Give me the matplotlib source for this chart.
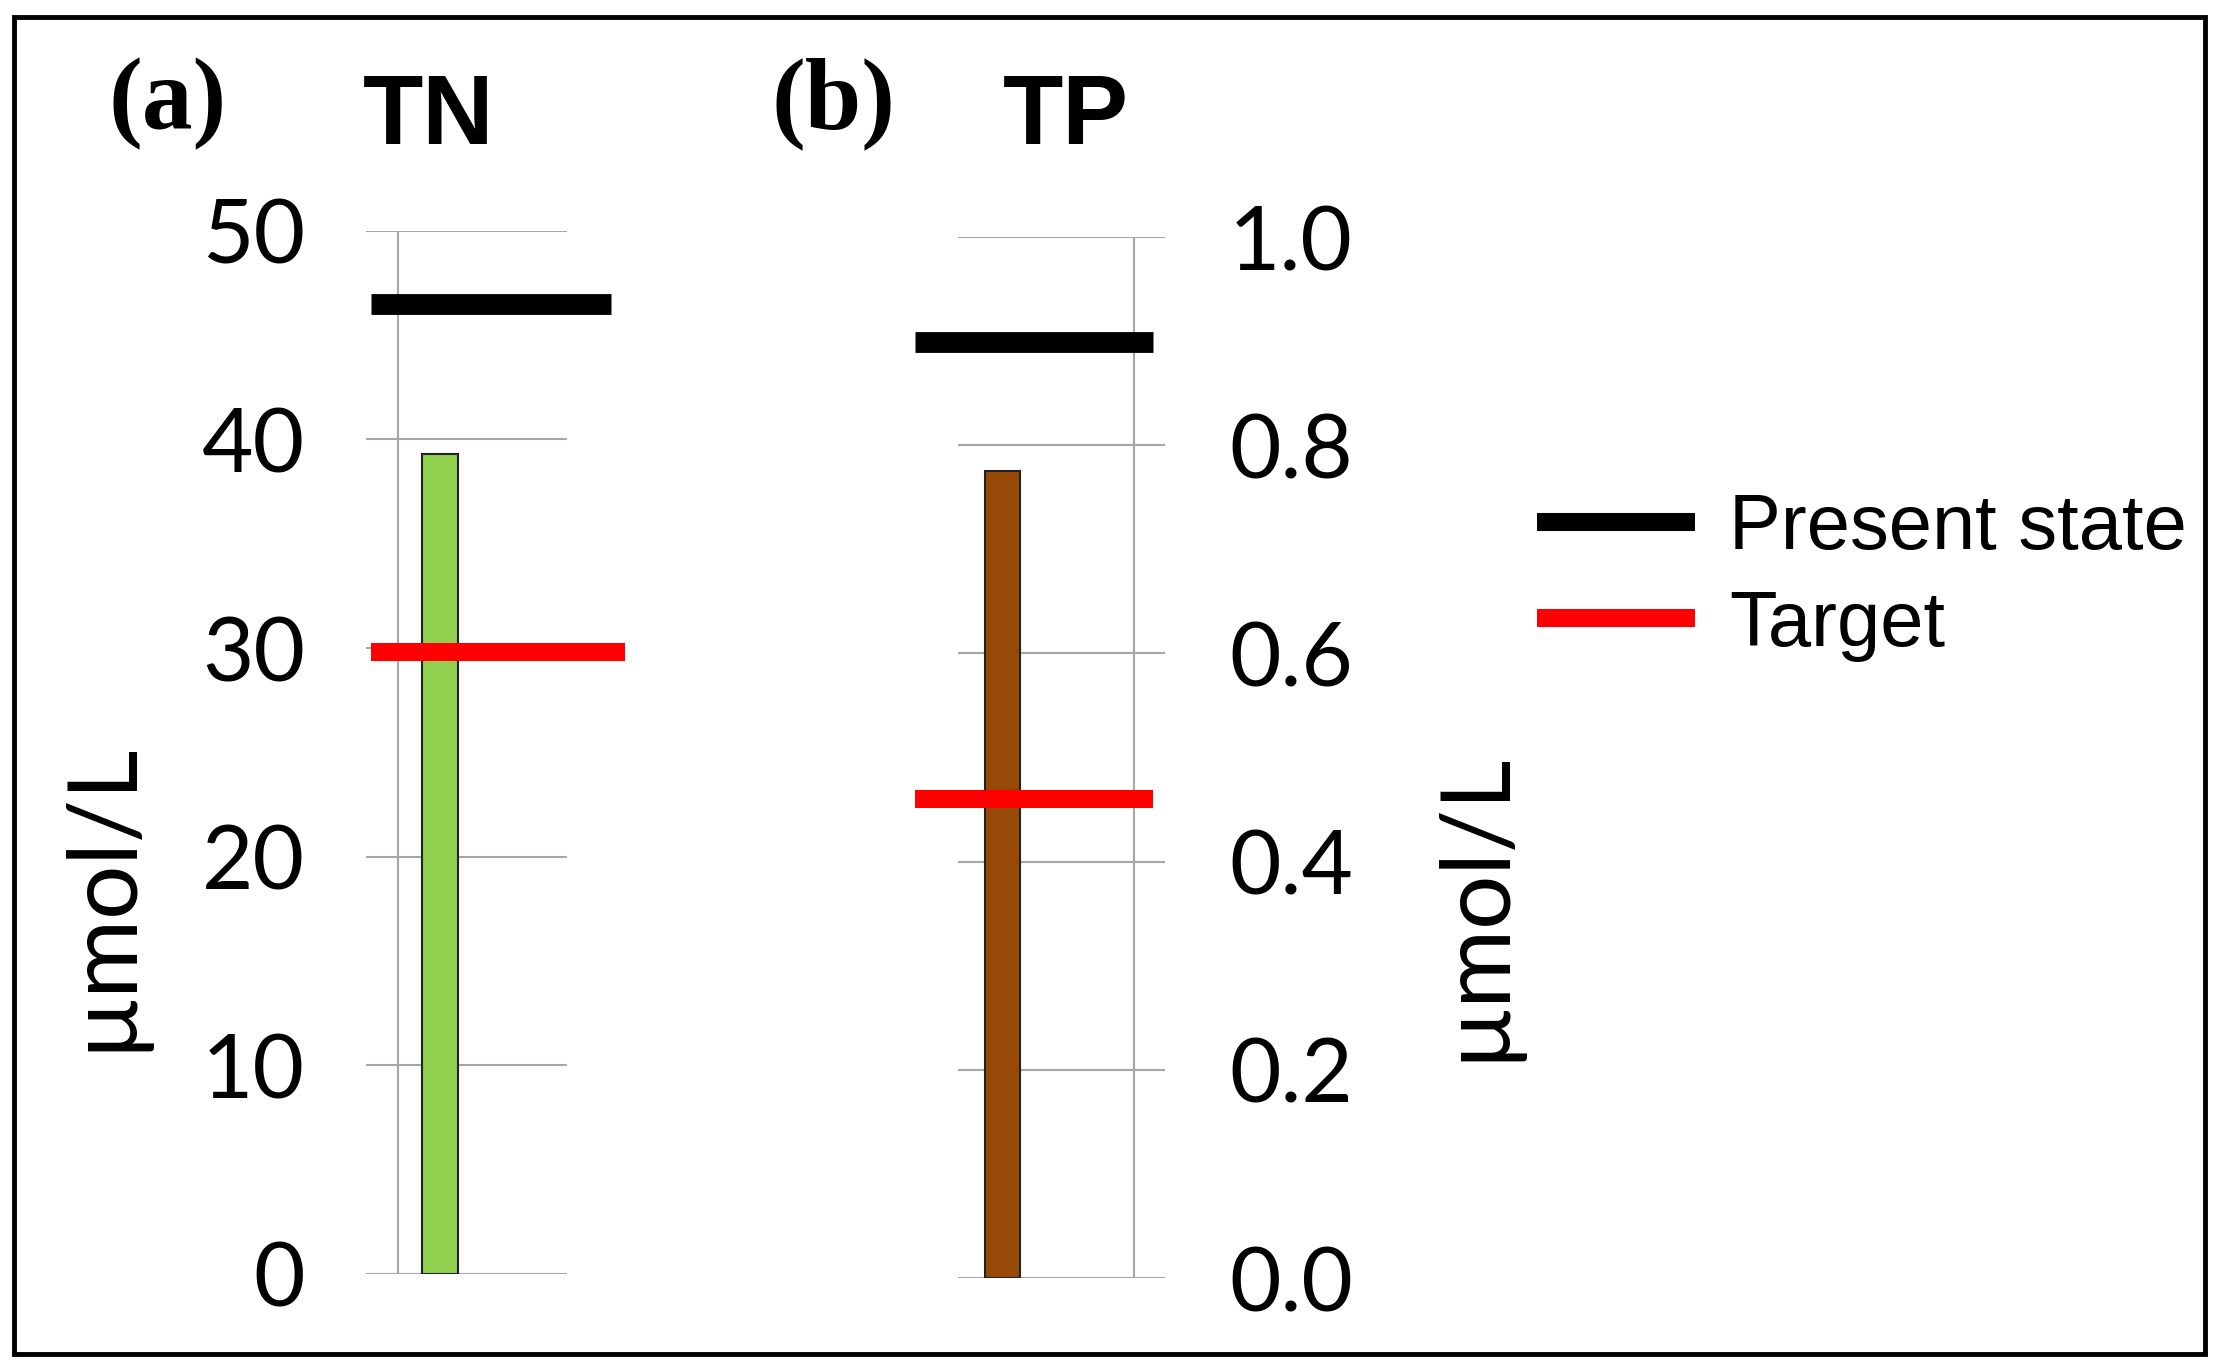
import matplotlib
matplotlib.use("Agg")
import matplotlib.pyplot as plt
from matplotlib.lines import Line2D
from matplotlib.patches import Rectangle

# values
tn_bar = 39.3
tn_present = 46.5
tn_target = 29.8
tn_ticks = [0, 10, 20, 30, 40, 50]

tp_bar = 0.775
tp_present = 0.899
tp_target = 0.46
tp_ticks = [0.0, 0.2, 0.4, 0.6, 0.8, 1.0]

grid_col = "#a6a6a6"
tick_font = "Lato"

fig = plt.figure(figsize=(22.22, 13.71), dpi=100)

# outer frame
fig.patches.append(Rectangle((14 / 2222, 1 - 1354 / 1371), (2205 - 14) / 2222, (1354 - 17) / 1371,
                             transform=fig.transFigure, fill=False, edgecolor="black", linewidth=3.5))

ax1 = fig.add_axes([0.1647, 0.0708, 0.0905, 0.7608])
ax2 = fig.add_axes([0.4311, 0.0678, 0.0932, 0.7593])

for ax in (ax1, ax2):
    ax.set_xlim(0, 1)
    for s in ax.spines.values():
        s.set_visible(False)
    ax.set_xticks([])
    ax.tick_params(axis="y", length=0, labelsize=64)
    ax.yaxis.grid(True, color=grid_col, linewidth=1.5)
    ax.set_axisbelow(True)

# (a) TN
ax1.set_ylim(0, 50)
ax1.set_yticks(tn_ticks)
ax1.set_yticklabels([str(t) for t in tn_ticks], fontfamily=tick_font)
ax1.tick_params(axis="y", pad=44)
ax1.axvline(0.159, color=grid_col, linewidth=1.5, zorder=0.5)
ax1.bar([0.368], [tn_bar], width=0.179, color="#92d050", edgecolor="#222222", linewidth=1.5, zorder=2)
ax1.hlines(tn_present, 0.025, 1.219, color="black", linewidth=15, clip_on=False, zorder=3)
ax1.hlines(tn_target, 0.025, 1.289, color="red", linewidth=13, clip_on=False, zorder=3)

# (b) TP
ax2.set_ylim(0, 1.0)
ax2.yaxis.tick_right()
ax2.set_yticks(tp_ticks)
ax2.set_yticklabels([f"{t:.1f}" for t in tp_ticks], fontfamily=tick_font)
ax2.tick_params(axis="y", pad=46)
ax2.axvline(0.850, color=grid_col, linewidth=1.5, zorder=0.5)
ax2.bar([0.215], [tp_bar], width=0.169, color="#984807", edgecolor="#222222", linewidth=1.5, zorder=2)
ax2.hlines(tp_present, -0.208, 0.942, color="black", linewidth=15, clip_on=False, zorder=3)
ax2.hlines(tp_target, -0.208, 0.942, color="red", linewidth=13, clip_on=False, zorder=3)

# panel letters and titles
fig.text(168 / 2222, 1 - 104 / 1371, "(a)", fontsize=73, fontweight="bold",
         fontfamily="Liberation Serif", ha="center", va="center")
fig.text(833 / 2222, 1 - 104 / 1371, "(b)", fontsize=73, fontweight="bold",
         fontfamily="Liberation Serif", ha="center", va="center")
fig.text(429 / 2222, 1 - 118 / 1371, "TN", fontsize=71, fontweight="bold",
         fontfamily="Liberation Sans", ha="center", va="center")
fig.text(1066 / 2222, 1 - 118 / 1371, "TP", fontsize=71, fontweight="bold",
         fontfamily="Liberation Sans", ha="center", va="center")

# y labels
fig.text(102 / 2222, 1 - 896 / 1371, "µmol/L", fontsize=69, fontfamily=tick_font,
         rotation=90, ha="center", va="center")
fig.text(1475 / 2222, 1 - 906 / 1371, "µmol/L", fontsize=69, fontfamily=tick_font,
         rotation=90, ha="center", va="center")

handles = [Line2D([], [], color="black", linewidth=13, solid_capstyle="butt"),
           Line2D([], [], color="red", linewidth=13, solid_capstyle="butt")]
fig.legend(handles, ["Present state", "Target"], loc="center left",
           bbox_to_anchor=(1537 / 2222, 1 - 577 / 1371), frameon=False,
           prop={"family": "Liberation Sans", "size": 56},
           handlelength=2.03, handletextpad=0.44, labelspacing=0.3,
           borderpad=0, borderaxespad=0)

fig.savefig("out.png", dpi=100)
